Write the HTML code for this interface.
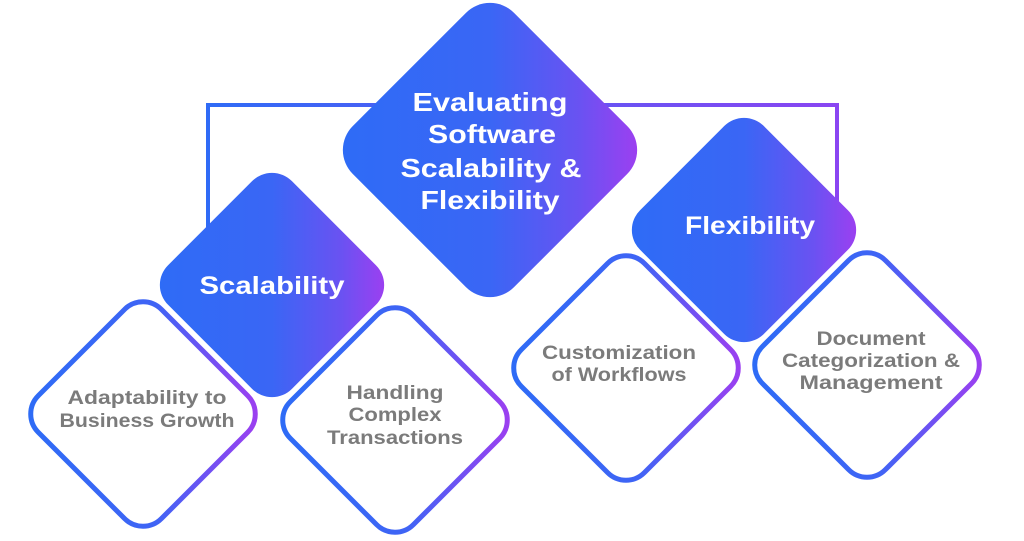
<!DOCTYPE html>
<html><head><meta charset="utf-8"><style>
html,body{margin:0;padding:0;background:#fff;}
svg{display:block;}
.w{font-family:"Liberation Sans",sans-serif;font-weight:bold;fill:#fff;text-anchor:middle;}
.g{font-family:"Liberation Sans",sans-serif;font-weight:bold;fill:#7b7b7b;text-anchor:middle;font-size:19px;}
</style></head><body>
<svg width="1024" height="541" viewBox="0 0 1024 541">
<defs>
<linearGradient id="f" x1="0" y1="1" x2="1" y2="0">
<stop offset="0" stop-color="#2d6cf6"/><stop offset="0.5" stop-color="#3a66f5"/><stop offset="0.78" stop-color="#6a52f2"/><stop offset="1" stop-color="#a83bf0"/>
</linearGradient>
<linearGradient id="s" x1="0" y1="1" x2="1" y2="0">
<stop offset="0" stop-color="#2d6cf6"/><stop offset="0.55" stop-color="#3f64f5"/><stop offset="1" stop-color="#a43cf0"/>
</linearGradient>
<linearGradient id="c" gradientUnits="userSpaceOnUse" x1="208" y1="0" x2="838" y2="0">
<stop offset="0" stop-color="#2f6bf6"/><stop offset="1" stop-color="#8a45f2"/>
</linearGradient>
</defs>
<path d="M208,232 V105 H837 V205" fill="none" stroke="url(#c)" stroke-width="4"/>
<g transform="translate(490,150) rotate(45)"><rect x="-114" y="-114" width="228" height="228" rx="34" fill="url(#f)"/></g>
<g transform="translate(272,285) rotate(45)"><rect x="-87.5" y="-87.5" width="175" height="175" rx="28" fill="url(#f)"/></g>
<g transform="translate(744,230) rotate(45)"><rect x="-87.5" y="-87.5" width="175" height="175" rx="28" fill="url(#f)"/></g>
<g transform="translate(143,414) rotate(45)"><rect x="-87" y="-87" width="174" height="174" rx="26" fill="#fff" stroke="url(#s)" stroke-width="5"/></g>
<g transform="translate(395,420) rotate(45)"><rect x="-87" y="-87" width="174" height="174" rx="26" fill="#fff" stroke="url(#s)" stroke-width="5"/></g>
<g transform="translate(626,368) rotate(45)"><rect x="-87" y="-87" width="174" height="174" rx="26" fill="#fff" stroke="url(#s)" stroke-width="5"/></g>
<g transform="translate(867,365) rotate(45)"><rect x="-87" y="-87" width="174" height="174" rx="26" fill="#fff" stroke="url(#s)" stroke-width="5"/></g>
<g class="w" font-size="26">
<text x="490" y="111" textLength="155" lengthAdjust="spacingAndGlyphs">Evaluating</text>
<text x="492" y="143" textLength="128" lengthAdjust="spacingAndGlyphs">Software</text>
<text x="491" y="177" textLength="181" lengthAdjust="spacingAndGlyphs">Scalability &amp;</text>
<text x="490" y="209" textLength="139" lengthAdjust="spacingAndGlyphs">Flexibility</text>
</g>
<text class="w" x="272" y="294" font-size="25" textLength="145" lengthAdjust="spacingAndGlyphs">Scalability</text>
<text class="w" x="750" y="234" font-size="25" textLength="130" lengthAdjust="spacingAndGlyphs">Flexibility</text>
<text class="g" x="147" y="404" textLength="159" lengthAdjust="spacingAndGlyphs">Adaptability to</text>
<text class="g" x="147" y="427" textLength="175" lengthAdjust="spacingAndGlyphs">Business Growth</text>
<text class="g" x="395" y="399" textLength="97" lengthAdjust="spacingAndGlyphs">Handling</text>
<text class="g" x="395" y="421" textLength="93" lengthAdjust="spacingAndGlyphs">Complex</text>
<text class="g" x="395" y="444" textLength="136" lengthAdjust="spacingAndGlyphs">Transactions</text>
<text class="g" x="619" y="359" textLength="154" lengthAdjust="spacingAndGlyphs">Customization</text>
<text class="g" x="619" y="381" textLength="135" lengthAdjust="spacingAndGlyphs">of Workflows</text>
<text class="g" x="871" y="345" textLength="109" lengthAdjust="spacingAndGlyphs">Document</text>
<text class="g" x="871" y="367" textLength="178" lengthAdjust="spacingAndGlyphs">Categorization &amp;</text>
<text class="g" x="871" y="389" textLength="143" lengthAdjust="spacingAndGlyphs">Management</text>
</svg>
</body></html>
